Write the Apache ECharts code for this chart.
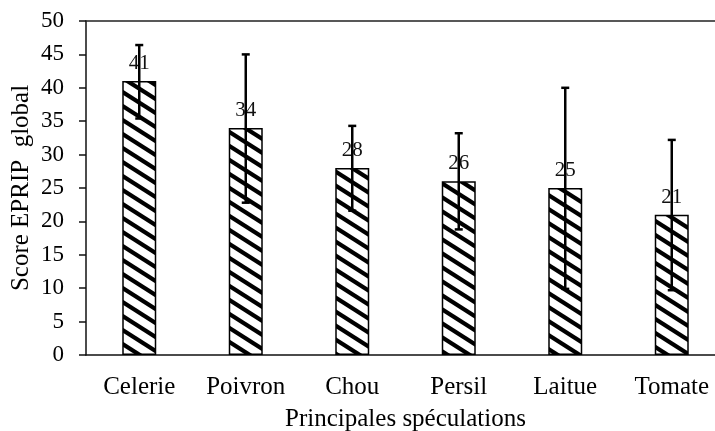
<!DOCTYPE html>
<html>
<head>
<meta charset="utf-8">
<script src="https://cdn.jsdelivr.net/npm/echarts@6/dist/echarts.min.js"></script>
<style>
  html, body { margin: 0; padding: 0; background: #fff; }
  #main { width: 715px; height: 431px; }
</style>
</head>
<body>
<div id="main"></div>
<script>
// données
const categories = ['Celerie', 'Poivron', 'Chou', 'Persil', 'Laitue', 'Tomate'];
const scores = [41, 34, 28, 26, 25, 21];
const errLow = [35.4, 22.8, 21.6, 18.8, 9.9, 9.7];
const errHigh = [46.4, 45.0, 34.3, 33.2, 40.0, 32.2];
const yTicks = { min: 0, max: 50, interval: 5 };

const FONT = '"Liberation Serif", "Times New Roman", serif';

// hachures diagonales
function makeHatch() {
    const W = 22, H = 14;
    const c = document.createElement('canvas');
    c.width = W;
    c.height = H;
    const ctx = c.getContext('2d');
    ctx.fillStyle = '#fff';
    ctx.fillRect(0, 0, W, H);
    ctx.strokeStyle = '#000';
    ctx.lineWidth = 4.2;
    for (let k = -2; k <= 2; k++) {
        ctx.beginPath();
        ctx.moveTo(k * W - W, -H);
        ctx.lineTo(k * W + 2 * W, 2 * H);
        ctx.stroke();
    }
    return c;
}

const chart = echarts.init(document.getElementById('main'), null, { renderer: 'canvas' });

const errData = categories.map((c, i) => [i, errLow[i], errHigh[i]]);

const option = {
    backgroundColor: '#fff',
    animation: false,
    grid: { left: 86, right: -10, top: 21, bottom: 76, containLabel: false, outerBoundsMode: 'none' },
    xAxis: [
        {
            type: 'category',
            data: categories,
            name: 'Principales spéculations',
            nameLocation: 'middle',
            nameGap: 52,
            nameMoveOverlap: false,
            nameTextStyle: { fontFamily: FONT, fontSize: 25, color: '#000' },
            axisLine: { lineStyle: { color: '#111', width: 1.5 } },
            axisTick: { show: false },
            axisLabel: { fontFamily: FONT, fontSize: 25, color: '#000', margin: 20 }
        },
        {
            type: 'category',
            data: categories,
            position: 'top',
            axisLine: { lineStyle: { color: '#222', width: 1.5 } },
            axisTick: { show: false },
            axisLabel: { show: false }
        }
    ],
    yAxis: {
        type: 'value',
        min: yTicks.min,
        max: yTicks.max,
        interval: yTicks.interval,
        name: 'Score EPRIP  global',
        nameLocation: 'middle',
        nameGap: 52,
        nameMoveOverlap: false,
        nameTextStyle: { fontFamily: FONT, fontSize: 25, color: '#000' },
        axisLine: { show: true, lineStyle: { color: '#111', width: 1.5 } },
        axisTick: { show: true, inside: false, length: 7, lineStyle: { color: '#111', width: 1.5 } },
        axisLabel: { fontFamily: FONT, fontSize: 23, color: '#000', margin: 22, padding: [3, 0, 0, 0] },
        splitLine: { show: false }
    },
    series: [
        {
            type: 'bar',
            data: scores,
            barWidth: 34,
            itemStyle: {
                color: { image: makeHatch(), repeat: 'repeat' },
                borderColor: '#000',
                borderWidth: 1.5
            },
            label: {
                show: true,
                position: 'top',
                distance: 7,
                fontFamily: FONT,
                fontSize: 21,
                color: '#111'
            },
            z: 2
        },
        {
            type: 'custom',
            data: errData,
            z: 10,
            renderItem: function (params, api) {
                const i = api.value(0);
                const lo = api.coord([i, api.value(1)]);
                const hi = api.coord([i, api.value(2)]);
                const cap = 4;
                const style = { stroke: '#000', lineWidth: 2.5 };
                return {
                    type: 'group',
                    children: [
                        { type: 'line', shape: { x1: lo[0], y1: lo[1], x2: hi[0], y2: hi[1] }, style: style },
                        { type: 'line', shape: { x1: hi[0] - cap, y1: hi[1], x2: hi[0] + cap, y2: hi[1] }, style: style },
                        { type: 'line', shape: { x1: lo[0] - cap, y1: lo[1], x2: lo[0] + cap, y2: lo[1] }, style: style }
                    ]
                };
            }
        }
    ]
};

chart.setOption(option);
</script>
</body>
</html>
